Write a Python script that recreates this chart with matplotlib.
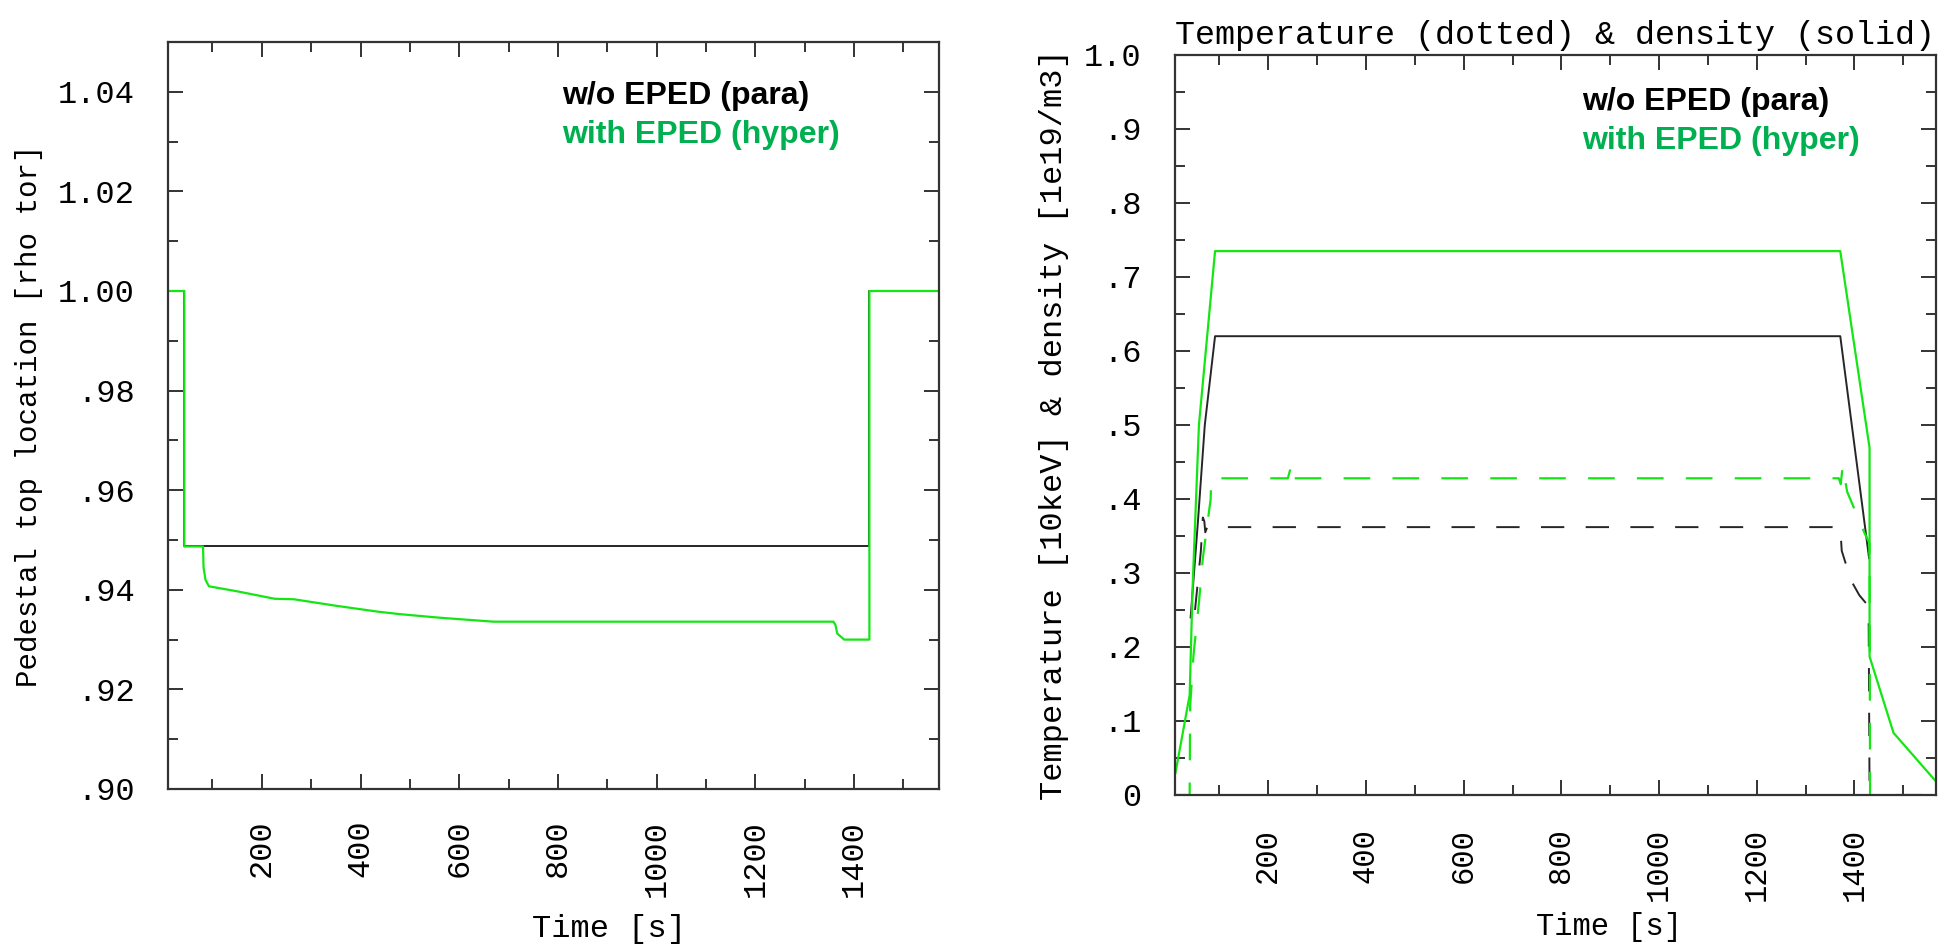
import matplotlib
matplotlib.use("Agg")
import matplotlib.pyplot as plt
from matplotlib.ticker import MultipleLocator, FixedLocator, FuncFormatter

# ---- pedestal top location (left panel) ----
t_ped_para = [10, 43, 43, 1431, 1431, 1570]
ped_para = [1.0, 1.0, 0.9487, 0.9487, 1.0, 1.0]

t_ped_hyper = [10, 43, 43, 81, 82, 86, 93, 150, 226, 265, 350, 436, 481,
               560, 669, 1000, 1358, 1362, 1366, 1380, 1431, 1431, 1570]
ped_hyper = [1.0, 1.0, 0.9487, 0.9487, 0.9445, 0.9420, 0.9407, 0.9397,
             0.9382, 0.9381, 0.9368, 0.9356, 0.9351, 0.9344, 0.9336, 0.9336,
             0.9336, 0.9330, 0.9312, 0.9300, 0.9300, 1.0, 1.0]

# ---- pedestal density (solid) and temperature (dashed), right panel ----
t_dens_hyper = [10, 39, 45, 58, 91, 1371, 1431, 1431, 1480, 1570]
dens_hyper = [0.03, 0.135, 0.28, 0.50, 0.735, 0.735, 0.469, 0.187, 0.084, 0.016]

t_dens_para = [41, 56, 70, 91, 1371, 1430]
dens_para = [0.24, 0.37, 0.50, 0.620, 0.620, 0.320]

t_temp_hyper = [10, 39, 40, 47, 58, 66, 82, 83, 240, 245, 248, 252, 1368,
                1372, 1376, 1385, 1420, 1431, 1432, 1570]
temp_hyper = [0, 0, 0.12, 0.19, 0.26, 0.32, 0.40, 0.428, 0.428, 0.44, 0.42,
              0.428, 0.428, 0.42, 0.445, 0.41, 0.355, 0.34, 0.0, 0.0]

t_temp_para = [50, 62, 66, 69, 71, 75, 1371, 1374, 1393, 1410, 1429, 1431]
temp_para = [0.25, 0.33, 0.375, 0.37, 0.355, 0.362, 0.362, 0.33, 0.29,
             0.27, 0.255, 0.0]

time_ticks = [200, 400, 600, 800, 1000, 1200, 1400]
legend_labels = ["w/o EPED (para)", "with EPED (hyper)"]

W, H = 1950, 951
GREEN = "#14e614"
BLACK = "#262626"
LEG_GREEN = "#00b050"
MONO = "Liberation Mono"

fig = plt.figure(figsize=(W / 100, H / 100), dpi=100)


def box(x0, y0, x1, y1):
    return [x0 / W, 1 - y1 / H, (x1 - x0) / W, (y1 - y0) / H]


def style(ax, ypad, xpad, xsize):
    for s in ax.spines.values():
        s.set_color("#333333")
        s.set_linewidth(1.6)
    ax.tick_params(which="both", direction="in", top=True, right=True,
                   color="#333333", width=1.4)
    ax.tick_params(which="major", length=11)
    ax.tick_params(which="minor", length=7)
    ax.tick_params(axis="y", which="major", pad=ypad, labelsize=23)
    ax.tick_params(axis="x", which="major", pad=xpad, labelsize=xsize,
                   labelrotation=90)
    ax.xaxis.set_major_locator(FixedLocator(time_ticks))
    ax.xaxis.set_minor_locator(MultipleLocator(100))
    for lab in ax.get_xticklabels() + ax.get_yticklabels():
        lab.set_family(MONO)


def dot_fmt(decimals):
    def f(v, pos):
        s = f"{v:.{decimals}f}"
        if abs(v) < 1e-9:
            return "0"
        if s.startswith("0."):
            s = s[1:]
        return s
    return FuncFormatter(f)


# left panel
ax1 = fig.add_axes(box(168, 42, 939, 789))
ax1.plot(t_ped_para, ped_para, color=BLACK, lw=1.4)
ax1.plot(t_ped_hyper, ped_hyper, color=GREEN, lw=1.6)
ax1.set_xlim(10, 1572)
ax1.set_ylim(0.90, 1.05)
ax1.yaxis.set_major_locator(MultipleLocator(0.02))
ax1.yaxis.set_minor_locator(MultipleLocator(0.01))
ax1.yaxis.set_major_formatter(dot_fmt(2))
style(ax1, 24, 22, 23)
ax1.set_ylabel("Pedestal top location [rho tor]", family=MONO, fontsize=21)
ax1.yaxis.set_label_coords(-0.162, 0.5)
ax1.set_xlabel("Time [s]", family=MONO, fontsize=23)
ax1.xaxis.set_label_coords(0.572, -0.167)

# right panel
ax2 = fig.add_axes(box(1175, 55, 1936, 795))
ax2.plot(t_dens_para, dens_para, color=BLACK, lw=1.4)
ax2.plot(t_temp_para, temp_para, color=BLACK, lw=1.4, dashes=(12, 11))
ax2.plot(t_dens_hyper, dens_hyper, color=GREEN, lw=1.6)
ax2.plot(t_temp_hyper, temp_hyper, color=GREEN, lw=1.6, dashes=(12, 10))
ax2.set_xlim(9, 1567)
ax2.set_ylim(0, 1.0)
ax2.yaxis.set_major_locator(MultipleLocator(0.1))
ax2.yaxis.set_minor_locator(MultipleLocator(0.05))
ax2.yaxis.set_major_formatter(dot_fmt(1))
style(ax2, 24, 24, 22)
ax2.set_ylabel("Temperature [10keV] & density [1e19/m3]", family=MONO,
               fontsize=23)
ax2.yaxis.set_label_coords(-0.139, 0.5)
ax2.set_xlabel("Time [s]", family=MONO, fontsize=22)
ax2.xaxis.set_label_coords(0.57, -0.158)
ax2.set_title("Temperature (dotted) & density (solid)", family=MONO,
              fontsize=24, loc="left", pad=8)

# series annotations
for x, y0 in [(562, 96), (1582, 102)]:
    fig.text(x / W, 1 - y0 / H, legend_labels[0], color="black",
             fontsize=23, fontweight="bold", family="Liberation Sans",
             va="center", ha="left")
    fig.text(x / W, 1 - (y0 + 39) / H, legend_labels[1], color=LEG_GREEN,
             fontsize=23, fontweight="bold", family="Liberation Sans",
             va="center", ha="left")

fig.savefig("out.png", dpi=100)
